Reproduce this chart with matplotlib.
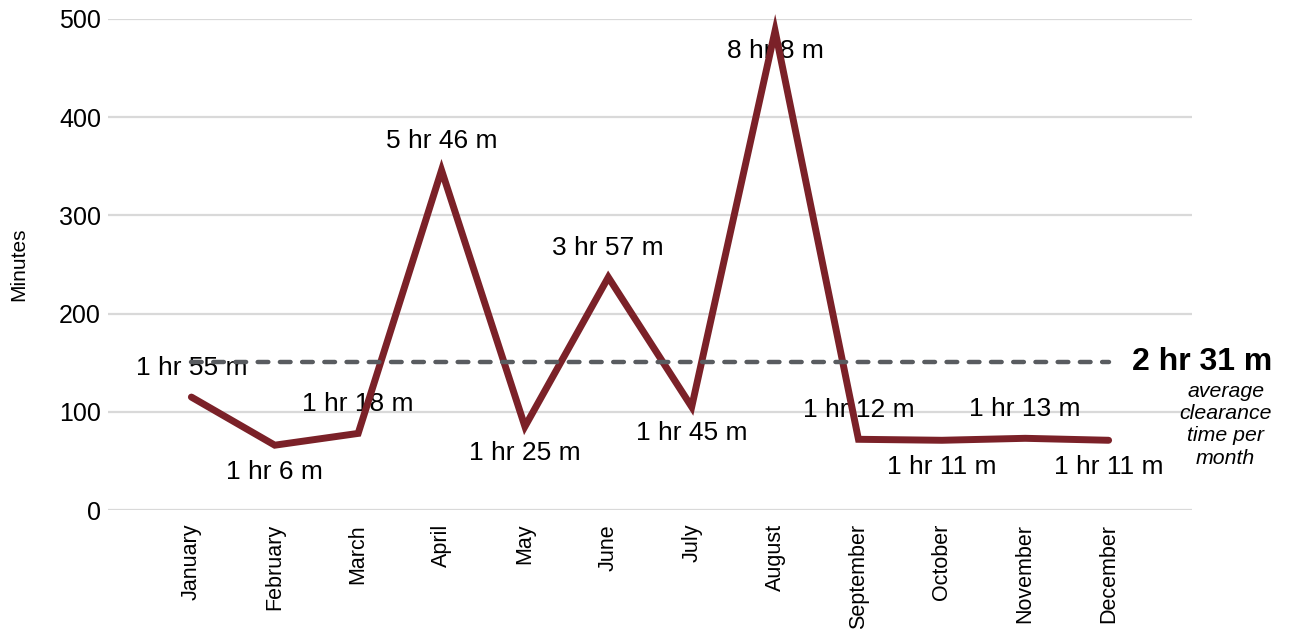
import numpy as np
import matplotlib
matplotlib.use('Agg')
from matplotlib import pyplot as plt

plt.rcParams['font.family'] = ['Liberation Sans', 'DejaVu Sans']

# monthly average clearance time, minutes
months = ['January', 'February', 'March', 'April', 'May', 'June', 'July',
          'August', 'September', 'October', 'November', 'December']
minutes = [115, 66, 78, 346, 85, 237, 105, 488, 72, 71, 73, 71]
label_side = ['above', 'below', 'above', 'above', 'below', 'above', 'below',
              'below', 'above', 'below', 'above', 'below']
avg_minutes = 151
y_ticks = [0, 100, 200, 300, 400, 500]

def hr_min(v):
    return f"{v // 60} hr {v % 60} m"

fig = plt.figure(figsize=(12.9, 6.32), dpi=100)
ax = fig.add_axes([108 / 1290, 1 - 510 / 632, 1084 / 1290, 491 / 632])

x = np.arange(len(months))

# gridlines
for t in y_ticks:
    ax.axhline(t, color='#d9d9d9', lw=1.6, zorder=1)

# the line itself
ax.plot(x, minutes, color='#7b2128', lw=5.0, solid_capstyle='round',
        solid_joinstyle='miter', zorder=4, clip_on=False)

# average dashed line, Jan -> Dec
avg_line, = ax.plot([x[0], x[-1]], [avg_minutes, avg_minutes], color='#595c60',
                    lw=3.2, dash_capstyle='round', zorder=5)
avg_line.set_dashes((2.4, 2.6))

# data labels
for i, v in enumerate(minutes):
    if label_side[i] == 'above':
        off = 21
    elif months[i] == 'August':
        off = -14.5
    else:
        off = -19
    ax.annotate(hr_min(v), (x[i], v), xytext=(0, off), textcoords='offset points',
                ha='center', va='center', fontsize=19, color='black', zorder=3)

# average annotation at right
ytr = ax.get_yaxis_transform()
ax.text(1.074, avg_minutes, hr_min(avg_minutes), transform=ytr, ha='right',
        va='center', fontsize=23, fontweight='bold', clip_on=False)
ax.text(1.031, 87, 'average\nclearance\ntime per\nmonth', transform=ytr,
        ha='center', va='center', fontsize=15.3, style='italic',
        linespacing=1.22, clip_on=False)

ax.set_xlim(-1, 12)
ax.set_ylim(0, 500)
ax.set_xticks(x)
ax.set_xticklabels(months, rotation=90, fontsize=15.5)
ax.set_yticks(y_ticks)
ax.tick_params(axis='y', labelsize=18, length=0, pad=5)
ax.tick_params(axis='x', length=0, pad=10)
ax.set_ylabel('Minutes', fontsize=15, labelpad=22)
for s in ax.spines.values():
    s.set_visible(False)

fig.savefig('out.png', dpi=100)
